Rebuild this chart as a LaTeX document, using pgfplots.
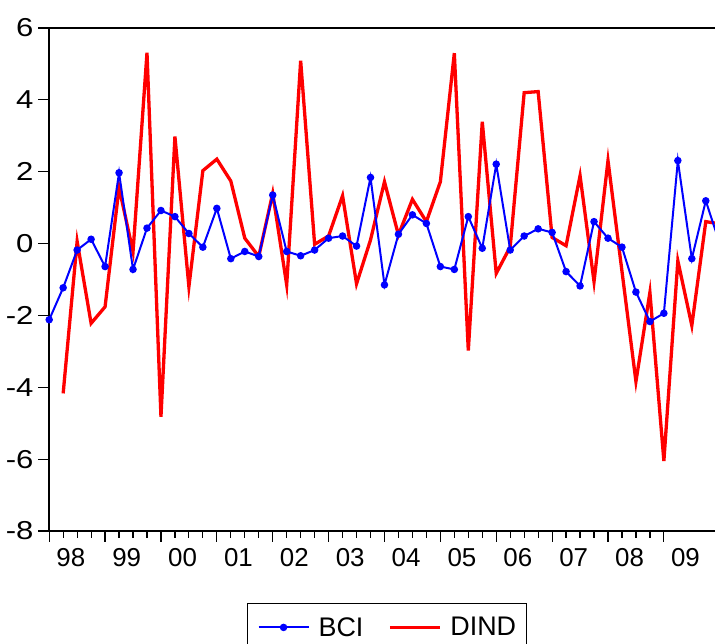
\documentclass[border=0pt]{standalone}
\usepackage{fontspec}
\setmainfont{Liberation Sans}
\usepackage{graphicx}
\usepackage{pgfplots}
\pgfplotsset{compat=1.18}
\usepackage{pgfplotstable}
\pgfplotstableread{
i v
0 -2.12
1 -1.23
2 -0.18
3 0.12
4 -0.64
5 1.97
6 -0.72
7 0.43
8 0.92
9 0.75
10 0.28
11 -0.10
12 0.98
13 -0.42
14 -0.22
15 -0.36
16 1.35
17 -0.22
18 -0.34
19 -0.18
20 0.15
21 0.21
22 -0.07
23 1.84
24 -1.15
25 0.26
26 0.80
27 0.56
28 -0.64
29 -0.72
30 0.75
31 -0.13
32 2.21
33 -0.18
34 0.21
35 0.41
36 0.31
37 -0.78
38 -1.18
39 0.61
40 0.15
41 -0.10
42 -1.35
43 -2.17
44 -1.94
45 2.31
46 -0.42
47 1.19
48 0.0
}\bci
\pgfplotstableread{
i v
1 -4.17
2 0.06
3 -2.22
4 -1.76
5 1.56
6 -0.23
7 5.31
8 -4.82
9 2.98
10 -1.20
11 2.03
12 2.35
13 1.74
14 0.15
15 -0.36
16 1.40
17 -1.15
18 5.09
19 -0.02
20 0.21
21 1.33
22 -1.12
23 0.10
24 1.72
25 0.24
26 1.23
27 0.61
28 1.72
29 5.30
30 -2.98
31 3.39
32 -0.83
33 -0.09
34 4.20
35 4.23
36 0.17
37 -0.06
38 1.89
39 -1.06
40 2.31
41 -0.77
42 -3.84
43 -1.36
44 -6.05
45 -0.48
46 -2.28
47 0.61
48 0.55
}\dind
\begin{document}
\begin{tikzpicture}
\begin{axis}[
  name=ax,
  scale only axis, width=665.8bp, height=503bp,
  xmin=0, xmax=47.66, ymin=-8, ymax=6,
  axis x line*=box, axis y line*=left,
  tick pos=left, tick align=outside,
  axis line style={line width=1.5bp, black},
  every tick/.style={black, line width=1.2bp},
  major tick length=11bp, minor tick length=6.7bp,
  xtick={0,4,...,44},
  xticklabels={98,99,00,01,02,03,04,05,06,07,08,09},
  minor x tick num=3,
  ytick={-8,-6,...,6},
  yticklabel={\scalebox{1.2}[1]{\pgfmathprintnumber[assume math mode=true]{\tick}}},
  xticklabel style={font=\fontsize{26}{26}\selectfont, inner sep=0pt, anchor=north, xshift=21.6bp, yshift=-6bp},
  yticklabel style={font=\fontsize{26}{26}\selectfont, inner sep=0pt, anchor=east, xshift=-4.5bp},
  legend columns=2, reverse legend,
  legend image code/.code={\draw[mark repeat=2,mark phase=2,#1] plot coordinates {(0bp,0bp) (25bp,0bp) (50bp,0bp)};},
  legend style={at={(0.2966,-0.1437)}, anchor=north west, draw=black, line width=1.2bp,
    font=\fontsize{27}{27}\selectfont, inner xsep=10.3bp, inner ysep=13.4bp,
    nodes={inner sep=0pt},
    /tikz/every odd column/.append style={column sep=9bp},
    /tikz/every even column/.append style={column sep=24.7bp}},
]
\addplot[red, line width=3.3bp] table[x=i,y=v] {\dind};
\addplot[blue, line width=2bp, mark=*, mark size=2.7bp, mark options={solid}] table[x=i,y=v] {\bci};
\legend{DIND,BCI}
\end{axis}
\pgfresetboundingbox
\path[use as bounding box] ([xshift=-49.2bp,yshift=-113bp]ax.south west) rectangle ([yshift=28bp]ax.north east);
\end{tikzpicture}
\end{document}
